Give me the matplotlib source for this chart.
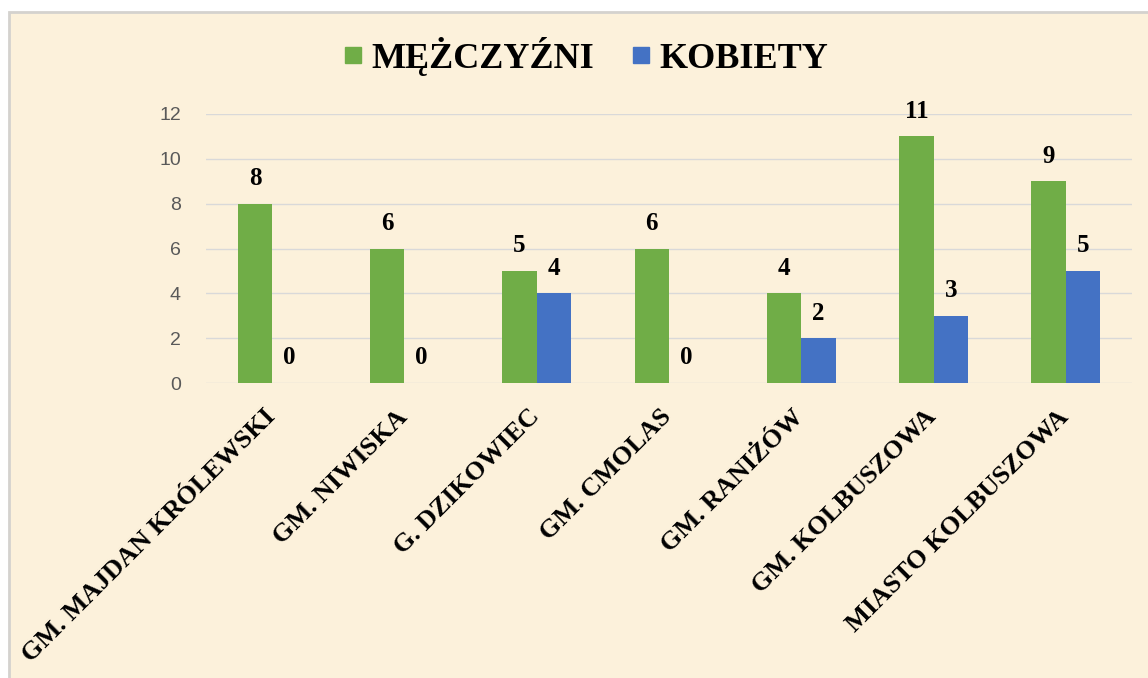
import numpy as np
import matplotlib
matplotlib.use("Agg")
import matplotlib.pyplot as plt
import matplotlib.transforms as mtransforms
from matplotlib.patches import Rectangle
from matplotlib.lines import Line2D

categories = ["GM. MAJDAN KRÓLEWSKI", "GM. NIWISKA", "G. DZIKOWIEC", "GM. CMOLAS",
              "GM. RANIŻÓW", "GM. KOLBUSZOWA", "MIASTO KOLBUSZOWA"]
men = [8, 6, 5, 6, 4, 11, 9]
women = [0, 0, 4, 0, 2, 3, 5]
series_names = ["MĘŻCZYŹNI", "KOBIETY"]

green = "#70AD47"
blue = "#4472C4"
paper = "#FCF1DB"
serif = "Liberation Serif"

fig = plt.figure(figsize=(11.48, 6.78), dpi=100, facecolor="white")
fig.patches.append(Rectangle((9 / 1148, -0.01), 1.0, 1 - 12 / 678 + 0.01,
                             transform=fig.transFigure, facecolor=paper,
                             edgecolor="#D4D2CE", linewidth=2, zorder=-1))

ax = fig.add_axes([206 / 1148, 1 - 383 / 678, 926 / 1148, 269 / 678])
ax.set_facecolor("none")

x = np.arange(len(categories))
w = 0.26
b1 = ax.bar(x - w / 2, men, w, color=green, zorder=3)
b2 = ax.bar(x + w / 2, women, w, color=blue, zorder=3)

for bars, vals in [(b1, men), (b2, women)]:
    for bar, v in zip(bars, vals):
        ax.annotate(str(v), (bar.get_x() + bar.get_width() / 2, v),
                    xytext=(0, 18), textcoords="offset points",
                    ha="center", va="center", fontsize=18,
                    fontweight="bold", family=serif)

ax.set_xlim(-0.5, len(categories) - 0.5)
ax.set_ylim(0, 12)
ax.set_yticks(range(0, 13, 2))
ax.grid(axis="y", color="#D9D9D9", linewidth=1, zorder=0)
for s in ax.spines.values():
    s.set_visible(False)
ax.tick_params(length=0)
ax.tick_params(axis="y", labelsize=14, labelcolor="#595959", pad=18)
for lab in ax.get_yticklabels():
    lab.set_family("Liberation Sans")

ax.set_xticks(x)
ax.set_xticklabels(categories, rotation=45, ha="right", rotation_mode="anchor",
                   fontsize=19, fontweight="bold", family=serif)
ax.tick_params(axis="x", pad=16)
shift = mtransforms.ScaledTranslation(-9 / 100, 0, fig.dpi_scale_trans)
for lab in ax.get_xticklabels():
    lab.set_transform(lab.get_transform() + shift)

handles = [Line2D([], [], marker="s", linestyle="none", markersize=11, color=green),
           Line2D([], [], marker="s", linestyle="none", markersize=11, color=blue)]
fig.legend(handles, series_names, loc="center", bbox_to_anchor=(585 / 1148, 1 - 56 / 678),
           ncol=2, frameon=False, handlelength=0.6, handletextpad=0.2, columnspacing=1.0,
           prop={"family": serif, "weight": "bold", "size": 26})

fig.savefig("out.png", dpi=100, facecolor="white")
